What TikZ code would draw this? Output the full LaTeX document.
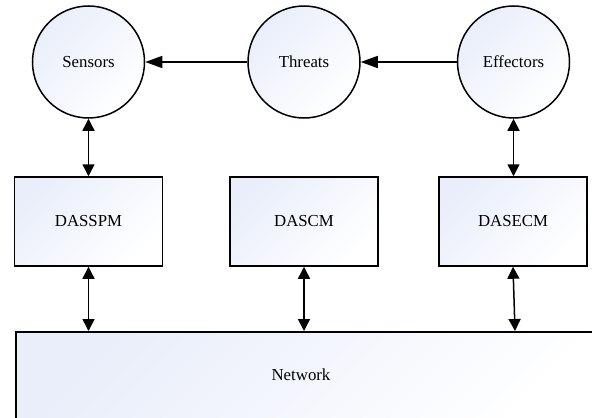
\documentclass[tikz,border=0pt]{standalone}
\usepackage{fontspec}
\setmainfont{Liberation Serif}
\usetikzlibrary{arrows.meta}
\definecolor{nodefill}{RGB}{233,238,250}
\tikzset{
  shadedfill/.style={top color=nodefill, bottom color=white, shading angle=45},
  circ/.style={circle, draw, line width=0.75pt, shadedfill, minimum size=56pt, inner sep=0pt, font=\fontsize{8.4}{10}\selectfont},
  box/.style={rectangle, draw, line width=0.75pt, shadedfill, minimum width=74pt, minimum height=44.5pt, inner sep=0pt, font=\fontsize{8.4}{10}\selectfont},
  lbl/.style={font=\fontsize{8.4}{10}\selectfont, inner sep=0pt},
  harrow/.style={line width=0.75pt, -{Triangle[length=8.5pt,width=6pt]}},
  varrow/.style={line width=0.75pt, {Triangle[length=6pt,width=6pt]}-{Triangle[length=6pt,width=6pt]}}
}
\begin{document}
\begin{tikzpicture}[x=0.5pt,y=-0.5pt]
\useasboundingbox (0,0) rectangle (592,417);
\clip (0,0) rectangle (592,417);
\fill[white] (0,0) rectangle (592,417);
\node[circ] (sensors) at (88.5,62) {Sensors};
\node[circ] (threats) at (304,62) {Threats};
\node[circ] (effectors) at (513.5,62) {Effectors};
\node[box] (dasspm) at (88.5,221.5) {DASSPM};
\node[box] (dascm) at (304,221.5) {DASCM};
\node[box] (dasecm) at (513,221.5) {DASECM};
\node[rectangle, draw, line width=0.75pt, shadedfill, minimum width=295pt, minimum height=50pt, inner sep=0pt, anchor=north west] (netbox) at (15,331) {};
\node[lbl] (net) at (301,375) {Network};
\draw[harrow] (threats) -- (sensors);
\draw[harrow] (effectors) -- (threats);
\draw[varrow] (sensors.south) -- (dasspm.north);
\draw[varrow] (effectors.south) -- ([xshift=0.25pt]dasecm.north);
\draw[varrow] (dasspm.south) -- (dasspm.south |- netbox.north);
\draw[varrow] (dascm.south) -- (dascm.south |- netbox.north);
\draw[varrow] (dasecm.south) -- ([xshift=1pt]dasecm.south |- netbox.north);
\end{tikzpicture}
\end{document}
